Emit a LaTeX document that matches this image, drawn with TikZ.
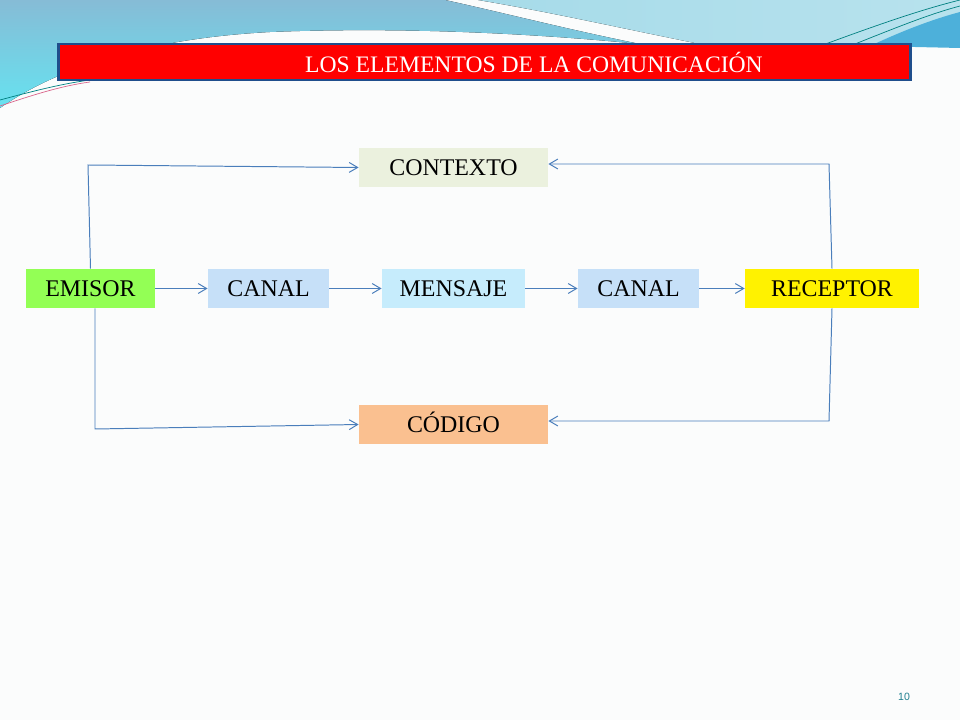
\documentclass[tikz,border=0pt]{standalone}
\usepackage{fontspec}
\setmainfont{Liberation Serif}
\setsansfont{Liberation Sans}
\usetikzlibrary{arrows.meta,calc}
\definecolor{bg_page}{HTML}{FBFCFC}
\definecolor{bg_top}{HTML}{86BCD6}
\definecolor{bg_cyan}{HTML}{66E2F0}
\definecolor{bg_light}{HTML}{A6DBE9}
\definecolor{bg_stripe}{HTML}{4DB0DA}
\definecolor{title_line}{HTML}{1F4E8C}
\definecolor{link_blue}{HTML}{4A7EBB}
\definecolor{c_emisor}{HTML}{93FF55}
\definecolor{c_canal}{HTML}{C6E0F8}
\definecolor{c_mensaje}{HTML}{C6ECFC}
\definecolor{c_contexto}{HTML}{EBF1DE}
\definecolor{c_codigo}{HTML}{FAC090}
\definecolor{page_num}{HTML}{1F7F8F}
\tikzset{
  elem_box/.style = {align=center, inner sep=0pt, text centered, font=\fontsize{17}{20}\selectfont,
    minimum height=0.975cm, text height=11.3pt, text depth=0pt},
  elem_link/.style = {draw=link_blue, line width=0.7pt, -{Straight Barb[length=6pt,width=7pt]}},
  deco_line/.style = {draw=#1, line width=0.5pt}
}
\begin{document}
\begin{tikzpicture}[x=0.025cm,y=-0.025cm]
	\useasboundingbox (0,0) rectangle (960,720);
	\fill[bg_page] (0,0) rectangle (960,720);
	% top waves
	\fill[top color=bg_top, bottom color=bg_cyan] (0,0) -- (445,0)
		.. controls (500,12) and (570,30) .. (640,44)
		.. controls (560,36) and (420,26) .. (270,32)
		.. controls (120,40) and (40,80) .. (0,108) -- cycle;
	\fill[left color=bg_light, right color=bg_light!80!white] (478,0) -- (960,0) -- (960,46)
		.. controls (900,46) and (800,44) .. (700,44)
		.. controls (620,28) and (550,12) .. (478,0) -- cycle;
	\fill[bg_stripe] (870,46) .. controls (900,32) and (930,20) .. (960,12) -- (960,48) -- cycle;
	\draw[deco_line=teal] (820,46) .. controls (880,24) and (920,10) .. (960,0);
	\draw[deco_line=teal] (850,46) .. controls (900,26) and (930,14) .. (960,6);
	\draw[deco_line=teal] (0,100) .. controls (30,92) and (60,84) .. (90,80);
	\draw[deco_line=purple!60] (0,106) .. controls (30,96) and (60,86) .. (90,82);
	% title
	\node[draw=title_line, line width=2pt, fill=red, minimum width=21.3cm, minimum height=0.9cm,
		inner sep=0pt] (titulo) at (484.5,62) {};
	\node[white, font=\fontsize{16.8}{19}\selectfont] (titulo_txt) at (534,62) {LOS ELEMENTOS DE LA COMUNICACIÓN};
	% elements
	\node[elem_box, fill=c_emisor, minimum width=3.23cm] (emisor) at (90.5,288.5) {EMISOR};
	\node[elem_box, fill=c_canal, minimum width=3.03cm] (canal_a) at (268.5,288.5) {CANAL};
	\node[elem_box, fill=c_mensaje, minimum width=3.58cm] (mensaje) at (453.5,288.5) {MENSAJE};
	\node[elem_box, fill=c_canal, minimum width=3.03cm] (canal_b) at (638.5,288.5) {CANAL};
	\node[elem_box, fill=yellow, minimum width=4.35cm] (receptor) at (832,288.5) {RECEPTOR};
	\node[elem_box, fill=c_contexto, minimum width=4.73cm] (contexto) at (453.5,167.5) {CONTEXTO};
	\node[elem_box, fill=c_codigo, minimum width=4.73cm] (codigo) at (453.5,424.5) {CÓDIGO};
	\node[text=page_num, font=\sffamily\fontsize{7.5}{9}\selectfont] (pagina) at (904,697) {10};
	% corners
	\coordinate (lt) at (88,165);
	\coordinate (lb) at (95,429);
	\coordinate (rt) at (829,164);
	\coordinate (rb) at (829,421);
	% links
	\draw[elem_link] (emisor) -- (canal_a);
	\draw[elem_link] (canal_a) -- (mensaje);
	\draw[elem_link] (mensaje) -- (canal_b);
	\draw[elem_link] (canal_b) -- (receptor);
	\draw[elem_link] (emisor.north) -- (lt) -- (contexto.west);
	\draw[elem_link] (emisor.south -| lb) -- (lb) -- (codigo.west);
	\draw[elem_link] (receptor.north) -- (rt) -- (rt -| contexto.east);
	\draw[elem_link] (receptor.south) -- (rb) -- (rb -| codigo.east);
\end{tikzpicture}
\end{document}
